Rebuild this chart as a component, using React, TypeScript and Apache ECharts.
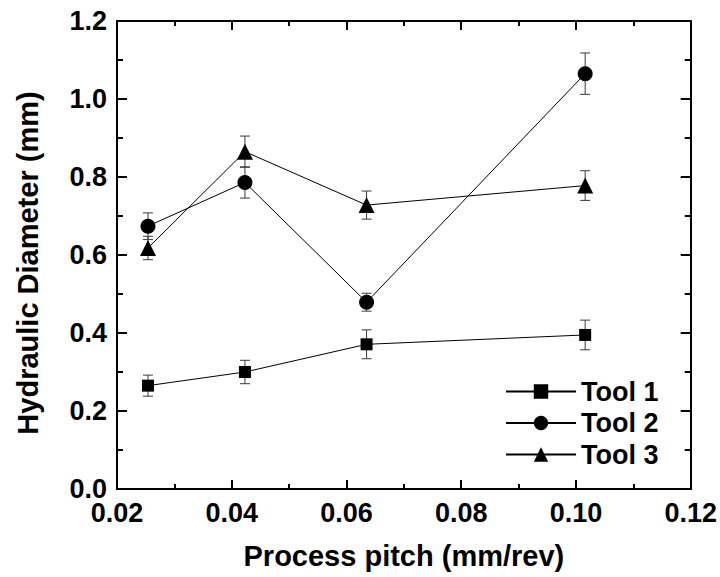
import React, { useEffect, useRef } from "react";
import * as echarts from "echarts";

// Process pitch (mm/rev)
const pitch = [0.0254, 0.0423, 0.0635, 0.1016];

// Hydraulic diameter (mm) and standard deviation for each tool
const tool1 = [0.265, 0.3, 0.371, 0.395];
const tool1Err = [0.027, 0.03, 0.037, 0.038];
const tool2 = [0.674, 0.786, 0.479, 1.065];
const tool2Err = [0.034, 0.04, 0.023, 0.053];
const tool3 = [0.618, 0.865, 0.728, 0.778];
const tool3Err = [0.03, 0.04, 0.036, 0.038];

const seriesNames = ["Tool 1", "Tool 2", "Tool 3"];
const xTicks = { min: 0.02, max: 0.12, step: 0.02 };
const yTicks = { min: 0, max: 1.2, step: 0.2 };

const FONT = "'Liberation Sans', Arial, sans-serif";

function errorBars(values: number[], errs: number[]) {
  return {
    type: "custom",
    silent: true,
    z: 1,
    data: values.map((v, i) => [pitch[i], v - errs[i], v + errs[i]]),
    renderItem: (_params: any, api: any) => {
      const x = api.value(0);
      const lo = api.coord([x, api.value(1)]);
      const hi = api.coord([x, api.value(2)]);
      const cap = 5;
      const style = { stroke: "#3a3a3a", lineWidth: 1 };
      return {
        type: "group",
        children: [
          { type: "line", shape: { x1: lo[0], y1: lo[1], x2: hi[0], y2: hi[1] }, style },
          { type: "line", shape: { x1: lo[0] - cap, y1: lo[1], x2: lo[0] + cap, y2: lo[1] }, style },
          { type: "line", shape: { x1: hi[0] - cap, y1: hi[1], x2: hi[0] + cap, y2: hi[1] }, style },
        ],
      };
    },
  };
}

function lineSeries(name: string, values: number[], symbol: string, size: number) {
  return {
    name,
    type: "line",
    z: 3,
    data: values.map((v, i) => [pitch[i], v]),
    symbol,
    symbolSize: size,
    itemStyle: { color: "#000" },
    lineStyle: { color: "#000", width: 1 },
  };
}

export default function App() {
  const ref = useRef<HTMLDivElement>(null);

  useEffect(() => {
    document.body.style.margin = "0";
    if (!ref.current) return;
    const chart = echarts.init(ref.current, undefined, { renderer: "svg" });

    const axisLine = { show: true, onZero: false, lineStyle: { color: "#000", width: 2 } };
    const xCommon = {
      type: "value",
      min: xTicks.min,
      max: xTicks.max,
      interval: xTicks.step,
      axisLine,
      axisTick: { show: true, inside: true, length: 9, lineStyle: { color: "#000", width: 2 } },
      minorTick: { show: true, splitNumber: 2, length: 5, lineStyle: { color: "#000", width: 2 } },
      splitLine: { show: false },
    };
    const yCommon = {
      type: "value",
      min: yTicks.min,
      max: yTicks.max,
      interval: yTicks.step,
      axisLine,
      axisTick: { show: true, inside: true, length: 10, lineStyle: { color: "#000", width: 2 } },
      minorTick: { show: true, splitNumber: 2, length: 6, lineStyle: { color: "#000", width: 2 } },
      splitLine: { show: false },
    };

    chart.setOption({
      animation: false,
      backgroundColor: "#fff",
      grid: { left: 117, right: 27.5, top: 21, bottom: 88, containLabel: false },
      xAxis: [
        {
          ...xCommon,
          position: "bottom",
          name: "Process pitch (mm/rev)",
          nameLocation: "middle",
          nameGap: 52,
          nameTextStyle: { fontFamily: FONT, fontWeight: "bold", fontSize: 29, color: "#000" },
          axisLabel: {
            margin: 10,
            fontFamily: FONT,
            fontWeight: "bold",
            fontSize: 27,
            color: "#000",
            formatter: (v: number) => v.toFixed(2),
          },
        },
        { ...xCommon, position: "top", axisLabel: { show: false } },
      ],
      yAxis: [
        {
          ...yCommon,
          position: "left",
          name: "Hydraulic Diameter (mm)",
          nameLocation: "middle",
          nameGap: 75,
          nameTextStyle: {
            fontFamily: FONT,
            fontWeight: "bold",
            fontSize: 29,
            color: "#000",
            padding: [0, 16, 0, 0],
          },
          axisLabel: {
            margin: 10,
            fontFamily: FONT,
            fontWeight: "bold",
            fontSize: 27,
            color: "#000",
            formatter: (v: number) => v.toFixed(1),
          },
        },
        { ...yCommon, position: "right", axisLabel: { show: false } },
      ],
      legend: {
        orient: "vertical",
        left: 505,
        top: 378,
        padding: 0,
        itemWidth: 70,
        itemHeight: 18,
        itemGap: 4.5,
        data: seriesNames,
        textStyle: { fontFamily: FONT, fontWeight: "bold", fontSize: 27, color: "#000", lineHeight: 26 },
      },
      series: [
        errorBars(tool1, tool1Err),
        errorBars(tool2, tool2Err),
        errorBars(tool3, tool3Err),
        lineSeries(seriesNames[0], tool1, "rect", 12),
        lineSeries(seriesNames[1], tool2, "circle", 15),
        lineSeries(seriesNames[2], tool3, "triangle", 16),
      ],
    });

    return () => chart.dispose();
  }, []);

  return <div ref={ref} style={{ width: 720, height: 577 }} />;
}
